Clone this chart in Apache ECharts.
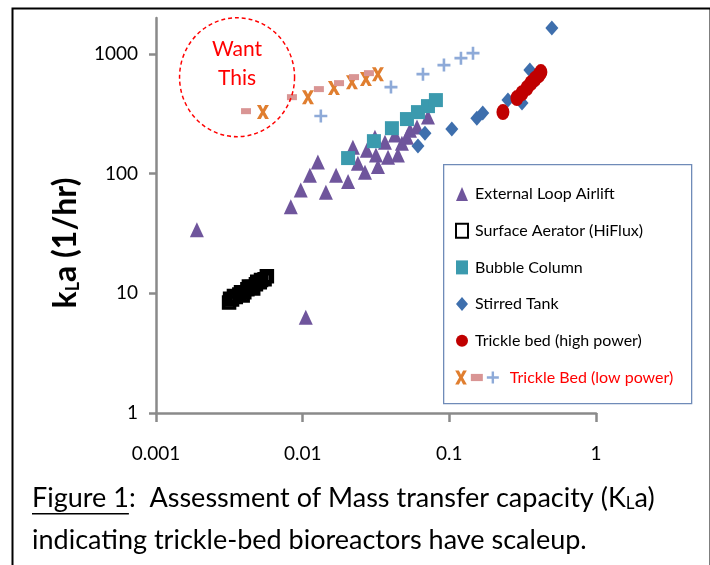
<!DOCTYPE html>
<html>
<head>
<meta charset="utf-8">
<script src="https://cdn.jsdelivr.net/npm/echarts@6/dist/echarts.min.js"></script>
<style>
  html, body { margin: 0; padding: 0; background: #fff; }
  #chart { width: 710px; height: 565px; }
</style>
</head>
<body>
<div id="chart"></div>
<script>
// tick labels
var xTickLabels = ['0.001', '0.01', '0.1', '1'];
var yTickValues = [1, 10, 100, 1000];

// [x, kLa]
var airlift = [[0.0019, 34], [0.0105, 6.3], [0.0083, 53], [0.0097, 73], [0.0112, 97], [0.0127, 125],
  [0.0144, 70], [0.0169, 97], [0.0204, 86], [0.0220, 166], [0.0238, 122], [0.0266, 103], [0.0274, 157],
  [0.0311, 202], [0.0316, 143], [0.0326, 115], [0.0364, 183], [0.0382, 137], [0.0426, 210], [0.0446, 143],
  [0.0475, 180], [0.0514, 202], [0.0539, 231], [0.0602, 245], [0.0715, 297]];
var aerator = [[0.00315, 8.4], [0.0032, 9.0], [0.0033, 8.9], [0.0034, 9.5], [0.0035, 9.3], [0.0037, 9.8],
  [0.0038, 10.2], [0.0039, 9.6], [0.0040, 10.2], [0.0042, 10.8], [0.0043, 11.4], [0.0045, 11.3],
  [0.0046, 11.0], [0.0048, 11.9], [0.0049, 12.5], [0.0051, 12.4], [0.0052, 12.9], [0.0055, 13.1], [0.0057, 13.9]];
var bubble = [[0.0204, 135], [0.0306, 187], [0.0406, 240], [0.0514, 286], [0.0611, 327], [0.0715, 367], [0.081, 412]];
var stirred = [[0.0611, 170], [0.0682, 218], [0.104, 236], [0.154, 291], [0.169, 321], [0.251, 412], [0.313, 389],
  [0.343, 519], [0.389, 605], [0.354, 734], [0.50, 1647]];
var highPower = [[0.232, 327], [0.289, 428], [0.313, 471], [0.338, 519], [0.36, 571], [0.383, 617], [0.408, 666], [0.421, 706]];
var lowX = [[0.00536, 327], [0.01087, 436], [0.01634, 519], [0.02168, 582], [0.027, 617], [0.0326, 679]];
var lowDash = [[0.00411, 333], [0.00845, 436], [0.0129, 509], [0.0177, 571], [0.0224, 641], [0.0283, 692]];
var lowPlus = [[0.0133, 303], [0.040, 529], [0.0661, 679], [0.0919, 808], [0.120, 924], [0.145, 1017]];
var wantThis = [0.00357, 640];

var FONT = 'Lato';
var xPath = 'path://M0,0 L3.2,0 L5,3.6 L6.8,0 L10,0 L6.6,6 L10,12 L6.8,12 L5,8.4 L3.2,12 L0,12 L3.4,6 Z';
var plusPath = 'path://M4,0 H6 V4 H10 V6 H6 V10 H4 V6 H0 V4 H4 Z';
var dashPath = 'path://M0,0 H10 V6 H0 Z';

var caption1 = 'Figure 1';
var captionSize = 27;
var captionFont = captionSize + 'px ' + FONT;
var ctx = document.createElement('canvas').getContext('2d');
ctx.font = captionFont;
var underlineW = ctx.measureText(caption1).width;

var chart = echarts.init(document.getElementById('chart'));
chart.setOption({
  animation: false,
  textStyle: { fontFamily: FONT },
  grid: { left: 156, right: 114, top: 18, bottom: 152 },
  xAxis: {
    type: 'log',
    logBase: 10,
    min: 0.001,
    max: 1,
    splitLine: { show: false },
    axisLine: { lineStyle: { color: '#8a8a8a', width: 2.5 } },
    axisTick: { length: 9, lineStyle: { color: '#8a8a8a', width: 2.5 } },
    axisLabel: {
      margin: 31, color: '#000', fontSize: 19, fontFamily: FONT,
      formatter: function (v) { return xTickLabels[Math.round(Math.log10(v)) + 3]; }
    }
  },
  yAxis: {
    type: 'log',
    logBase: 10,
    min: 1,
    max: 2000,
    splitLine: { show: false },
    axisLine: { lineStyle: { color: '#8a8a8a', width: 2.5 } },
    axisTick: { length: 7, customValues: yTickValues, lineStyle: { color: '#8a8a8a', width: 2.5 } },
    axisLabel: {
      margin: 18, color: '#000', fontSize: 19, fontFamily: FONT,
      customValues: yTickValues,
      formatter: function (v) { return String(Math.round(v)); }
    }
  },
  legend: [{
    orient: 'vertical',
    left: 450,
    top: 181,
    itemWidth: 12,
    itemHeight: 14,
    itemGap: 20.7,
    textStyle: { color: '#000', fontSize: 16, fontFamily: FONT, padding: [0, 0, 0, 2] },
    data: ['External Loop Airlift', 'Surface Aerator (HiFlux)', 'Bubble Column', 'Stirred Tank', 'Trickle bed (high power)']
  }, {
    orient: 'horizontal',
    left: 450,
    top: 364.5,
    itemWidth: 12,
    itemHeight: 14,
    itemGap: 4,
    textStyle: { color: '#ff0000', fontSize: 16, fontFamily: FONT, padding: [0, 0, 0, 6] },
    formatter: function (n) { return n === 'Trickle Bed (low power)' ? n : ''; },
    data: ['lowX', 'lowDash', 'Trickle Bed (low power)']
  }],
  graphic: [
    { type: 'rect', left: 10, top: 6, z: -10, shape: { width: 698, height: 600 },
      style: { fill: 'none', stroke: '#000', lineWidth: 2 } },
    { type: 'rect', left: 443, top: 164, z: 0, shape: { width: 248, height: 239 },
      style: { fill: '#fff', stroke: '#6f8bb8', lineWidth: 1.3 } },
    { type: 'text', x: 66, y: 243, rotation: Math.PI / 2,
      style: {
        text: '{b|k}{s|L}{b|a (1/hr)}', align: 'center', verticalAlign: 'middle',
        rich: {
          b: { fontSize: 32, fontWeight: 'bold', fontFamily: FONT, fill: '#000' },
          s: { fontSize: 18, fontWeight: 'bold', fontFamily: FONT, fill: '#000', padding: [14, 0, 0, 0] }
        }
      } },
    { type: 'text', x: 32, y: 498,
      style: {
        text: '{n|' + caption1 + ':  Assessment of Mass transfer capacity (K}{s|L}{n|a)}', verticalAlign: 'middle',
        rich: {
          n: { fontSize: captionSize, fontFamily: FONT, fill: '#000' },
          s: { fontSize: 17, fontFamily: FONT, fill: '#000', padding: [11, 0, 0, 0] }
        }
      } },
    { type: 'rect', x: 32, y: 513, shape: { width: underlineW, height: 1.5 }, style: { fill: '#000' } },
    { type: 'text', x: 32, y: 540,
      style: { text: 'indicating trickle-bed bioreactors have scaleup.', verticalAlign: 'middle',
        font: captionFont, fill: '#000' } }
  ],
  series: [
    { name: 'External Loop Airlift', type: 'scatter', symbol: 'triangle', symbolSize: [14, 15],
      itemStyle: { color: '#6f559c', opacity: 1 }, data: airlift },
    { name: 'Surface Aerator (HiFlux)', type: 'scatter', symbol: 'rect', symbolSize: 11,
      itemStyle: { color: 'transparent', borderColor: '#000', borderWidth: 3.5, opacity: 1 }, data: aerator },
    { name: 'Bubble Column', type: 'scatter', symbol: 'rect', symbolSize: 14,
      itemStyle: { color: '#3b9aae', opacity: 1 }, data: bubble },
    { name: 'Stirred Tank', type: 'scatter', symbol: 'diamond', symbolSize: [13, 15],
      itemStyle: { color: '#3e6fad', opacity: 1 }, data: stirred },
    { name: 'Trickle bed (high power)', type: 'scatter', symbol: 'circle', symbolSize: [13, 16],
      itemStyle: { color: '#c00000', opacity: 1 }, data: highPower },
    { name: 'lowX', type: 'scatter', symbol: xPath, symbolSize: [12, 14],
      itemStyle: { color: '#e07e2f', opacity: 1 }, data: lowX,
      markPoint: {
        silent: true,
        symbol: 'circle',
        symbolSize: [115, 119],
        itemStyle: { color: 'transparent', borderColor: '#ff0000', borderWidth: 1.5, borderType: [4, 3] },
        label: { show: true, position: 'inside', formatter: 'Want\nThis', color: '#ff0000',
          fontSize: 21, lineHeight: 29, fontFamily: FONT, offset: [0, -13] },
        data: [{ coord: wantThis }]
      } },
    { name: 'lowDash', type: 'scatter', symbol: dashPath, symbolSize: [10, 6],
      itemStyle: { color: '#d99594', opacity: 1 }, data: lowDash },
    { name: 'Trickle Bed (low power)', type: 'scatter', symbol: plusPath, symbolSize: 13,
      itemStyle: { color: '#8eaad8', opacity: 1 }, data: lowPlus }
  ]
});
</script>
</body>
</html>
